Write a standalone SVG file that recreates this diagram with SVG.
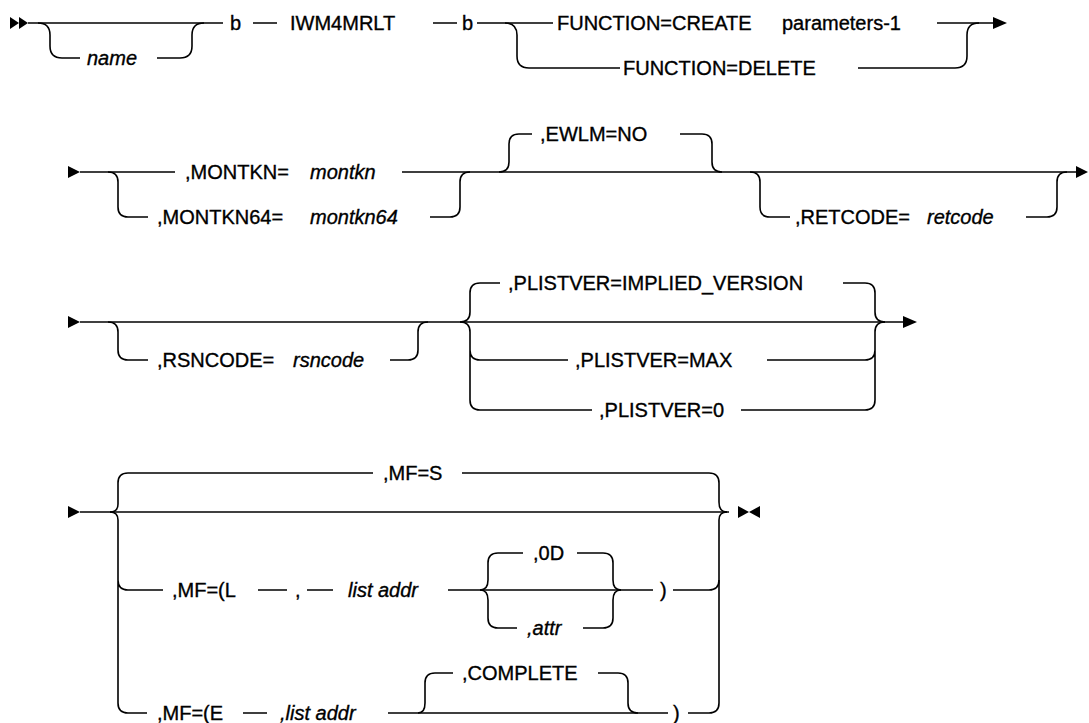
<svg xmlns="http://www.w3.org/2000/svg" width="1089" height="723" viewBox="0 0 1089 723">
<style>
text{font-family:"Liberation Sans",Arial,sans-serif;font-size:20px;fill:#000;stroke:#000;stroke-width:0.35}
.i{font-style:italic}
.c{fill:none;stroke:#000;stroke-width:1.6}
.a{fill:#000}
</style>
<g id="connectors">
<!-- row 1 -->
<polygon class="a" points="10,17 19,23 10,29"/>
<polygon class="a" points="19,17 28,23 19,29"/>
<path class="c" d="M28,23 H223"/>
<path class="c" d="M38,23 Q50,23 50,35 V46 Q50,58 62,58 H80 M157,58 H180 Q192,58 192,46 V35 Q192,23 204,23"/>
<path class="c" d="M253,23 H277 M433,23 H457 M477,23 H553"/>
<path class="c" d="M505,23 Q517,23 517,35 V56 Q517,68 529,68 H620"/>
<path class="c" d="M858,68 H955 Q967,68 967,56 V35 Q967,23 979,23"/>
<path class="c" d="M937,23 H994"/>
<polygon class="a" points="993,17 1007,23 993,29"/>
<!-- row 2 -->
<polygon class="a" points="68,166 80,172 68,178"/>
<path class="c" d="M80,172 H175 M402,172 H1078"/>
<path class="c" d="M108,172 Q118,172 118,182 V207 Q118,217 128,217 H148 M430,217 H450 Q460,217 460,207 V182 Q460,172 470,172"/>
<path class="c" d="M499,172 Q509,172 509,162 V144 Q509,134 519,134 H532 M680,134 H702 Q712,134 712,144 V162 Q712,172 722,172"/>
<path class="c" d="M750,172 Q760,172 760,182 V207 Q760,217 770,217 H790 M1026,217 H1047 Q1057,217 1057,207 V182 Q1057,172 1067,172"/>
<polygon class="a" points="1076,166 1088,172 1076,178"/>
<!-- row 3 -->
<polygon class="a" points="68,316 80,322 68,328"/>
<path class="c" d="M80,322 H903"/>
<polygon class="a" points="903,316 917,322 903,328"/>
<path class="c" d="M108,322 Q118,322 118,332 V350 Q118,360 128,360 H148 M390,360 H408 Q418,360 418,350 V332 Q418,322 428,322"/>
<path class="c" d="M460,322 Q470,322 470,312 V293 Q470,283 480,283 H500"/>
<path class="c" d="M460,322 Q470,322 470,332 V400 Q470,410 480,410 H592 M470,350 Q470,360 480,360 H568"/>
<path class="c" d="M843,283 H865 Q875,283 875,293 V312 Q875,322 885,322"/>
<path class="c" d="M741,410 H865 Q875,410 875,400 V332 Q875,322 885,322 M767,360 H865 Q875,360 875,350"/>
<!-- row 4 -->
<polygon class="a" points="68,506 80,512 68,518"/>
<path class="c" d="M80,512 H729"/>
<path class="c" d="M110,512 Q118,512 118,504 V483 Q118,473 128,473 H373 M462,473 H709 Q719,473 719,483 V502 Q719,512 727,512"/>
<path class="c" d="M110,512 Q118,512 118,520 V703 Q118,713 128,713 H147 M118,580 Q118,590 128,590 H163"/>
<path class="c" d="M258,590 H287 M307,590 H333 M448,590 H653 M673,590 H709 Q719,590 719,580"/>
<path class="c" d="M480,590 Q488,590 488,580 V563 Q488,553 498,553 H523 M577,553 H603 Q613,553 613,563 V580 Q613,590 621,590"/>
<path class="c" d="M480,590 Q488,590 488,600 V618 Q488,628 498,628 H517 M583,628 H603 Q613,628 613,618 V600 Q613,590 621,590"/>
<path class="c" d="M243,713 H267 M388,713 H668 M688,713 H709 Q719,713 719,703 V520 Q719,512 727,512"/>
<path class="c" d="M418,713 Q425,713 425,703 V683 Q425,673 435,673 H453 M598,673 H618 Q628,673 628,683 V703 Q628,713 638,713"/>
<polygon class="a" points="738,506 749,512 738,518"/>
<polygon class="a" points="760,506 749,512 760,518"/>
</g>
<g id="n-name"><text class="i" x="87" y="65">name</text></g>
<g id="n-b1"><text x="230" y="30">b</text></g>
<g id="n-iwm"><text x="290" y="30">IWM4MRLT</text></g>
<g id="n-b2"><text x="462" y="30">b</text></g>
<g id="n-create"><text x="557" y="30">FUNCTION=CREATE</text></g>
<g id="n-params"><text x="782" y="30">parameters-1</text></g>
<g id="n-delete"><text x="623" y="75">FUNCTION=DELETE</text></g>
<g id="n-montkn"><text x="185" y="179">,MONTKN=</text><text class="i" x="310" y="179">montkn</text></g>
<g id="n-montkn64"><text x="157" y="224">,MONTKN64=</text><text class="i" x="310" y="224">montkn64</text></g>
<g id="n-ewlm"><text x="540" y="141">,EWLM=NO</text></g>
<g id="n-retcode"><text x="795" y="224">,RETCODE=</text><text class="i" x="927" y="224">retcode</text></g>
<g id="n-rsncode"><text x="157" y="367">,RSNCODE=</text><text class="i" x="293" y="367">rsncode</text></g>
<g id="n-implied"><text x="508" y="290">,PLISTVER=IMPLIED_VERSION</text></g>
<g id="n-max"><text x="575" y="367">,PLISTVER=MAX</text></g>
<g id="n-zero"><text x="599" y="417">,PLISTVER=0</text></g>
<g id="n-mfs"><text x="383" y="480">,MF=S</text></g>
<g id="n-mfl"><text x="172" y="597">,MF=(L</text><text x="295" y="597">,</text><text class="i" x="348" y="597">list addr</text><text x="660" y="597">)</text></g>
<g id="n-0d"><text x="533" y="560">,0D</text></g>
<g id="n-attr"><text class="i" x="527" y="635">,attr</text></g>
<g id="n-mfe"><text x="157" y="720">,MF=(E</text><text class="i" x="280" y="720">,list addr</text><text x="673" y="720">)</text></g>
<g id="n-complete"><text x="462" y="680">,COMPLETE</text></g>
</svg>
